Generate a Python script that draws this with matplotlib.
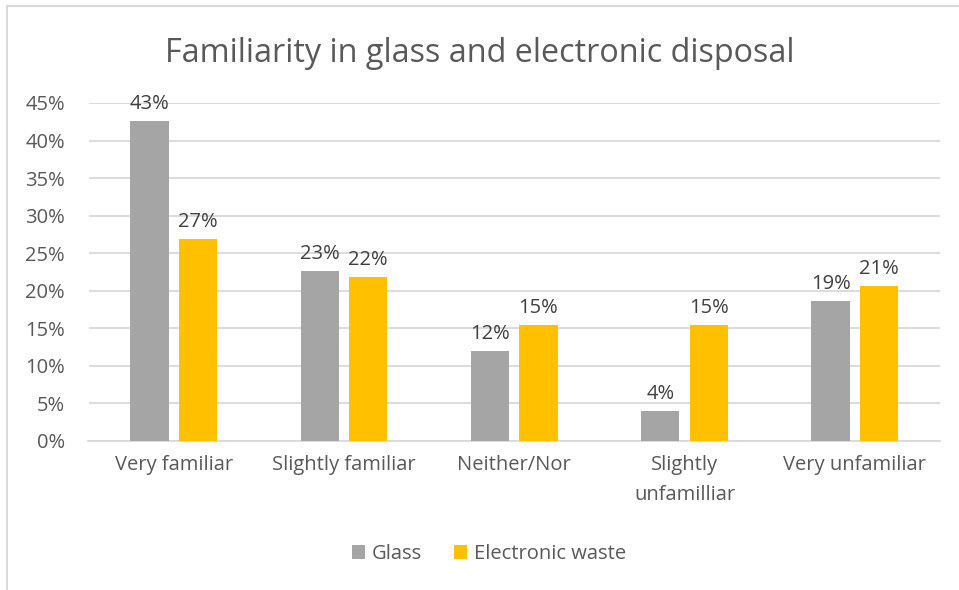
import matplotlib
matplotlib.use("Agg")
import matplotlib.pyplot as plt
from matplotlib.lines import Line2D
import numpy as np

categories = ["Very familiar", "Slightly familiar", "Neither/Nor",
              "Slightly\nunfamilliar", "Very unfamiliar"]
glass = [0.426, 0.226, 0.120, 0.040, 0.187]
ewaste = [0.269, 0.218, 0.154, 0.154, 0.206]
series_names = ["Glass", "Electronic waste"]
yticks = [0.0, 0.05, 0.10, 0.15, 0.20, 0.25, 0.30, 0.35, 0.40, 0.45]

GRAY = "#A5A5A5"
GOLD = "#FFC000"
GRID = "#D9D9D9"
TEXT = "#595959"
LABEL = "#404040"
FONT = ["Open Sans", "DejaVu Sans"]

plt.rcParams["font.family"] = FONT

fig = plt.figure(figsize=(9.59, 5.90), dpi=100)
ax = fig.add_axes([88.5 / 959, 1 - 441 / 590, (940 - 88.5) / 959, (441 - 103) / 590])

x = np.arange(len(categories))
w = 0.225
gap = 0.06
off = (w + gap) / 2
b1 = ax.bar(x - off, glass, w, color=GRAY, label=series_names[0], zorder=3)
b2 = ax.bar(x + off, ewaste, w, color=GOLD, label=series_names[1], zorder=3)

for bars, vals in ((b1, glass), (b2, ewaste)):
    for r, v in zip(bars, vals):
        ax.annotate(f"{int(v * 100 + 0.5)}%",
                    (r.get_x() + r.get_width() / 2, v),
                    xytext=(0, 5), textcoords="offset points",
                    ha="center", va="bottom", fontsize=14.5, color=LABEL)

ax.set_xlim(-0.5, len(categories) - 0.5)
ax.set_ylim(0, 0.45)
ax.set_yticks(yticks)
ax.set_yticklabels([f"{round(t * 100)}%" for t in yticks])
ax.set_xticks(x)
ax.set_xticklabels(categories, linespacing=1.65)
ax.tick_params(axis="both", length=0, colors=TEXT, labelsize=14.5)
ax.tick_params(axis="y", pad=17)
ax.tick_params(axis="x", pad=10)
ax.grid(axis="y", color=GRID, linewidth=1.3, zorder=0)
for s in ("top", "right", "left"):
    ax.spines[s].set_visible(False)
ax.spines["bottom"].set_color(GRID)
ax.spines["bottom"].set_linewidth(1.3)

fig.text(0.5, 1 - 53 / 590, "Familiarity in glass and electronic disposal",
         ha="center", va="center", fontsize=23.3, color=TEXT)

leg = fig.legend(handles=[b1, b2], loc="center", bbox_to_anchor=(0.51, 1 - 554 / 590),
                 ncol=2, frameon=False, fontsize=14.5, handlelength=0.65,
                 handleheight=0.65, handletextpad=0.35, columnspacing=1.6)
for t in leg.get_texts():
    t.set_color(TEXT)

# chart frame (top and left edges)
fig.add_artist(Line2D([6.5 / 959, 1.0], [1 - 5.5 / 590, 1 - 5.5 / 590],
                      transform=fig.transFigure, color=GRID, linewidth=1.5))
fig.add_artist(Line2D([6.5 / 959, 6.5 / 959], [0.0, 1 - 5.5 / 590],
                      transform=fig.transFigure, color=GRID, linewidth=1.5))

fig.savefig("out.png", dpi=100, facecolor="white")
